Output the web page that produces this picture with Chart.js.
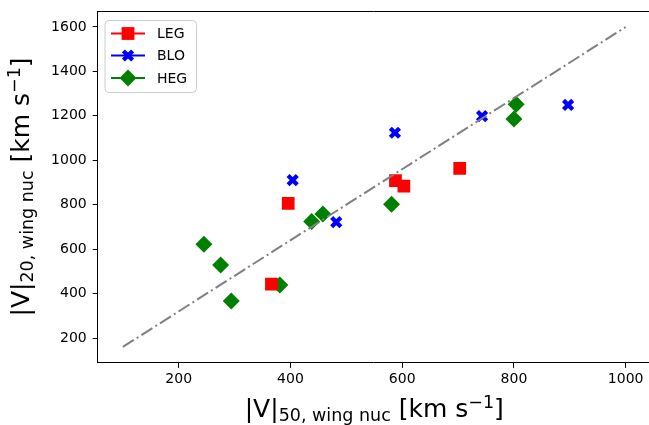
<!DOCTYPE html>
<html>
<head>
<meta charset="utf-8">
<script src="https://cdn.jsdelivr.net/npm/chart.js@4.4.1/dist/chart.umd.min.js"></script>
<style>
  html, body { margin: 0; padding: 0; background: #fff; overflow: hidden; }
  #wrap { width: 649px; height: 425px; }
</style>
</head>
<body>
<div id="wrap"><canvas id="chart" width="649" height="425"></canvas></div>
<script>
// values
const legX = [366, 396, 588, 603, 703];
const legY = [443, 806, 908, 884, 964];

const bloX = [404, 482, 587, 743, 897];
const bloY = [911, 722, 1124, 1199, 1249];

const hegX = [245, 275, 294, 381, 438, 458, 581, 804, 800];
const hegY = [622, 529, 367, 439, 724, 758, 802, 1252, 1186];

// one-to-one style reference line
const refX = [100, 1000];
const refY = [160, 1600];

const xTicks = [200, 400, 600, 800, 1000];
const yTicks = [200, 400, 600, 800, 1000, 1200, 1400, 1600];

const seriesNames = ['LEG', 'BLO', 'HEG'];

const FONT = "'DejaVu Sans'";

const toPoints = (xs, ys) => xs.map((x, i) => ({ x: x, y: ys[i] }));

// draw a run of text pieces (normal / sub / superscript) centred on 0
const drawRich = (ctx, parts) => {
    let total = 0;
    parts.forEach(p => {
        ctx.font = p.size + 'px ' + FONT;
        p.w = ctx.measureText(p.text).width;
        total += p.w;
    });
    let x = -total / 2;
    ctx.textBaseline = 'alphabetic';
    ctx.textAlign = 'left';
    parts.forEach(p => {
        ctx.font = p.size + 'px ' + FONT;
        ctx.fillText(p.text, x, p.dy);
        x += p.w;
    });
}

const axisLabel = (sub) => [
    { text: '|V|', size: 25, dy: 0 },
    { text: sub, size: 17.5, dy: 3.5 },
    { text: ' [km s', size: 25, dy: 0 },
    { text: '\u22121', size: 17.5, dy: -9.5 },
    { text: ']', size: 25, dy: 0 }
];

const drawSquare = (ctx, x, y, color) => {
    ctx.fillStyle = color;
    ctx.fillRect(x - 6.4, y - 6.4, 12.8, 12.8);
}

const drawDiamond = (ctx, x, y, color) => {
    ctx.fillStyle = color;
    ctx.beginPath();
    ctx.moveTo(x, y - 8.5);
    ctx.lineTo(x + 8.5, y);
    ctx.lineTo(x, y + 8.5);
    ctx.lineTo(x - 8.5, y);
    ctx.closePath();
    ctx.fill();
}

const drawCross = (ctx, x, y, color) => {
    const d = 6.5 * Math.SQRT1_2;
    ctx.strokeStyle = color;
    ctx.lineWidth = 4.3;
    ctx.lineCap = 'butt';
    ctx.beginPath();
    ctx.moveTo(x - d, y - d);
    ctx.lineTo(x + d, y + d);
    ctx.moveTo(x + d, y - d);
    ctx.lineTo(x - d, y + d);
    ctx.stroke();
}

// pin the plot box to where the reference has it (right edge runs off the canvas)
const AREA = { left: 97.7, right: 650.8, top: 11, bottom: 362.9 };

const extras = {
    id: 'extras',
    afterLayout(chart) {
        const a = chart.chartArea;
        Object.assign(a, AREA);
        a.width = a.right - a.left;
        a.height = a.bottom - a.top;
        const x = chart.scales.x;
        const y = chart.scales.y;
        x.left = a.left; x.right = a.right; x.width = a.width;
        x.top = a.bottom; x.bottom = chart.height; x.height = x.bottom - x.top;
        y.top = a.top; y.bottom = a.bottom; y.height = a.height;
        y.left = 0; y.right = a.left; y.width = a.left;
        x.configure();
        y.configure();
    },
    afterDraw(chart) {
        const ctx = chart.ctx;
        const a = chart.chartArea;

        ctx.save();
        // the plot runs off the right edge: keep that strip empty like the reference
        ctx.fillStyle = '#fff';
        ctx.fillRect(chart.width - 8, a.top + 1, 8, a.bottom - a.top - 2);

        // top spine
        ctx.strokeStyle = '#000';
        ctx.lineWidth = 1;
        ctx.beginPath();
        ctx.moveTo(a.left, a.top + 0.5);
        ctx.lineTo(chart.width, a.top + 0.5);
        ctx.stroke();

        // axis titles
        ctx.fillStyle = '#000';
        ctx.save();
        ctx.translate((a.left + a.right) / 2, 417);
        drawRich(ctx, axisLabel('50, wing nuc'));
        ctx.restore();

        ctx.save();
        ctx.translate(29, (a.top + a.bottom) / 2);
        ctx.rotate(-Math.PI / 2);
        drawRich(ctx, axisLabel('20, wing nuc'));
        ctx.restore();

        // legend
        const bx = 105, by = 20.5, bw = 91.5, bh = 72, r = 4;
        ctx.beginPath();
        ctx.moveTo(bx + r, by);
        ctx.arcTo(bx + bw, by, bx + bw, by + bh, r);
        ctx.arcTo(bx + bw, by + bh, bx, by + bh, r);
        ctx.arcTo(bx, by + bh, bx, by, r);
        ctx.arcTo(bx, by, bx + bw, by, r);
        ctx.closePath();
        ctx.fillStyle = 'rgba(255,255,255,0.8)';
        ctx.fill();
        ctx.strokeStyle = '#cccccc';
        ctx.lineWidth = 1;
        ctx.stroke();

        const colors = ['#ff0000', '#0000ff', '#008000'];
        const markers = [drawSquare, drawCross, drawDiamond];
        const rows = [33.5, 55.5, 78];
        seriesNames.forEach((name, i) => {
            const y = rows[i];
            ctx.strokeStyle = colors[i];
            ctx.lineWidth = 2;
            ctx.beginPath();
            ctx.moveTo(111, y);
            ctx.lineTo(145, y);
            ctx.stroke();
            markers[i](ctx, 128, y, colors[i]);
            ctx.fillStyle = '#000';
            ctx.font = '14px ' + FONT;
            ctx.textAlign = 'left';
            ctx.textBaseline = 'middle';
            ctx.fillText(name, 157, y + 1);
        });
        ctx.restore();
    }
};

Chart.defaults.font.family = FONT;
Chart.defaults.font.size = 14;
Chart.defaults.color = '#000';

new Chart(document.getElementById('chart'), {
    type: 'scatter',
    data: {
        datasets: [
            {
                label: 'ref',
                data: toPoints(refX, refY),
                showLine: true,
                borderColor: '#808080',
                borderWidth: 2,
                borderDash: [13, 3.5, 2, 3.5],
                pointRadius: 0,
                pointHoverRadius: 0
            },
            {
                label: seriesNames[0],
                data: toPoints(legX, legY),
                pointStyle: 'rect',
                pointRadius: 9,
                backgroundColor: '#ff0000',
                borderColor: '#ff0000',
                borderWidth: 0
            },
            {
                label: seriesNames[1],
                data: toPoints(bloX, bloY),
                pointStyle: 'crossRot',
                pointRadius: 6.5,
                backgroundColor: '#0000ff',
                borderColor: '#0000ff',
                borderWidth: 4.3
            },
            {
                label: seriesNames[2],
                data: toPoints(hegX, hegY),
                pointStyle: 'rectRot',
                pointRadius: 8.5,
                backgroundColor: '#008000',
                borderColor: '#008000',
                borderWidth: 0
            }
        ]
    },
    options: {
        responsive: false,
        animation: false,
        plugins: {
            legend: { display: false },
            tooltip: { enabled: false }
        },
        scales: {
            x: {
                type: 'linear',
                min: 55,
                max: 1045,
                afterBuildTicks: scale => { scale.ticks = xTicks.map(v => ({ value: v })); },
                grid: { drawOnChartArea: false, drawTicks: true, tickLength: 5, tickColor: '#000', tickWidth: 1 },
                border: { display: true, color: '#000', width: 1 },
                ticks: { padding: 3, maxRotation: 0, callback: value => String(value) }
            },
            y: {
                type: 'linear',
                min: 88,
                max: 1672,
                afterBuildTicks: scale => { scale.ticks = yTicks.map(v => ({ value: v })); },
                grid: { drawOnChartArea: false, drawTicks: true, tickLength: 5, tickColor: '#000', tickWidth: 1 },
                border: { display: true, color: '#000', width: 1 },
                ticks: { padding: 6, callback: value => String(value) }
            }
        }
    },
    plugins: [extras]
});
</script>
</body>
</html>
